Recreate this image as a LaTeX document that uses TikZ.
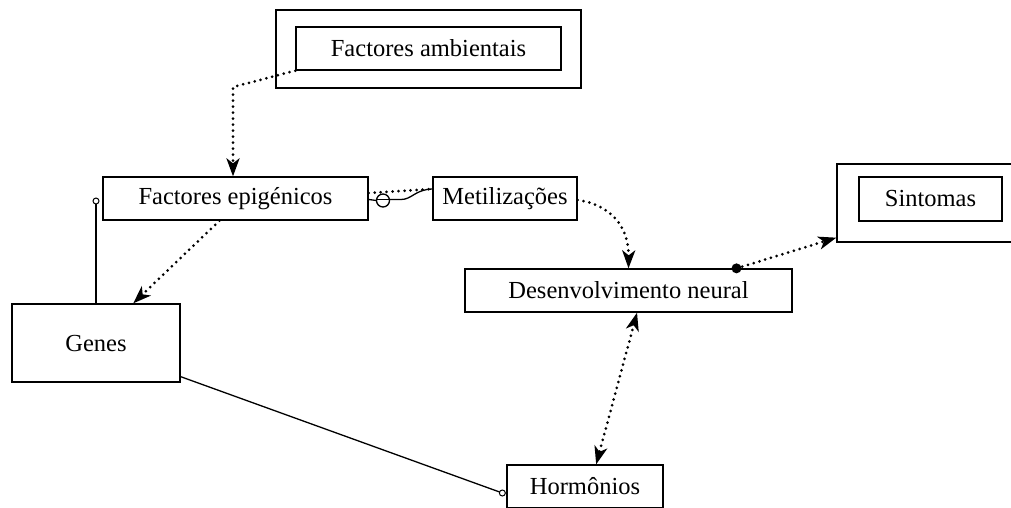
\documentclass[tikz,border=0pt]{standalone}
\usepackage{fontspec}
\setmainfont{Liberation Serif}
\usetikzlibrary{arrows.meta,calc}
\begin{document}
\begin{tikzpicture}[x=1pt,y=-1pt,
  box/.style={draw,line width=1.3pt,inner sep=0pt,minimum width=#1,minimum height=43pt,
    font=\fontsize{24.5pt}{29pt}\selectfont},
  frame/.style={draw,line width=1.3pt,inner sep=0pt},
  dots/.style={line width=3pt,line cap=round,dash pattern=on 0pt off 6pt},
  tip/.style={-{Stealth[length=18pt,width=13pt,inset=5pt]}},
  solidline/.style={line width=1.3pt}]
\clip (0,0) rectangle (1011,507);
\useasboundingbox (0,0) rectangle (1011,507);
% nodes
\node[frame,minimum width=305pt,minimum height=78pt] (ambOuter) at (428.5,49) {};
\node[box=265pt] (amb) at (428.5,48.5) {Factores ambientais};
\node[box=265pt] (epi) at (235.5,198.5) {Factores epigénicos};
\node[box=144pt] (met) at (505,198.5) {Metilizações};
\node[frame,minimum width=200pt,minimum height=78pt] (sinOuter) at (937,203) {};
\node[box=143pt,minimum height=44pt] (sin) at (930.5,199) {Sintomas};
\node[box=327pt] (des) at (628.5,290.5) {Desenvolvimento neural};
\node[box=168pt,minimum height=78pt] (genes) at (96,343) {Genes};
\node[box=156pt] (hor) at (585,486.5) {Hormônios};
% helper coordinates
\coordinate (b1) at (233,87);
\coordinate (gtop) at (96,201);
\coordinate (cm) at (383,200.5);
\coordinate (cmr) at (401,199.5);
% connectors
\draw[dots,tip] (amb.south west) -- (b1) -- (b1 |- epi.north);
\draw[dots,tip] ($(epi.south west)!0.44!(epi.south east)$) -- ($(genes.north west)!0.72!(genes.north east)$);
\draw[solidline] (genes.north) -- (gtop);
\draw[line width=1pt,fill=white] (gtop) circle (3pt);
\draw[solidline] ($(genes.south east)+(0,-6)$) -- ($(hor.west)+(-4,6.5)$);
\draw[line width=1pt,fill=white] ($(hor.west)+(-4,6.5)$) circle (3pt);
\draw[dots] ($(epi.east)+(0,-5.5)$) -- ($(met.west)+(0,-9.5)$);
\draw[solidline] ($(epi.east)+(0,1)$) -- ($(cm)+(-6.5,0)$);
\draw[solidline] (cm) circle (6.5pt);
\draw[solidline] ($(cm)+(-6.5,-1)$) -- ($(cm)+(6.5,-1)$);
\draw[solidline] ($(cm)+(6.5,-1)$) -- (cmr) .. controls (412,199.5) and (415,189.5) .. ($(met.west)+(0,-9.5)$);
\draw[dots,tip] ($(met.east)+(0,1.5)$) .. controls (612,205) and (629,228) .. ($(des.north west)!0.5!(des.north east)$);
\fill ($(des.north west)!0.829!(des.north east)$) circle (5pt);
\draw[dots,tip] ($(des.north west)!0.829!(des.north east)$) -- ($(sinOuter.south west)+(0,-5)$);
\draw[dots,{Stealth[length=18pt,width=13pt,inset=5pt]}-{Stealth[length=18pt,width=13pt,inset=5pt]}] ($(des.south west)!0.526!(des.south east)$) -- ($(hor.north west)!0.571!(hor.north east)$);
\end{tikzpicture}
\end{document}
